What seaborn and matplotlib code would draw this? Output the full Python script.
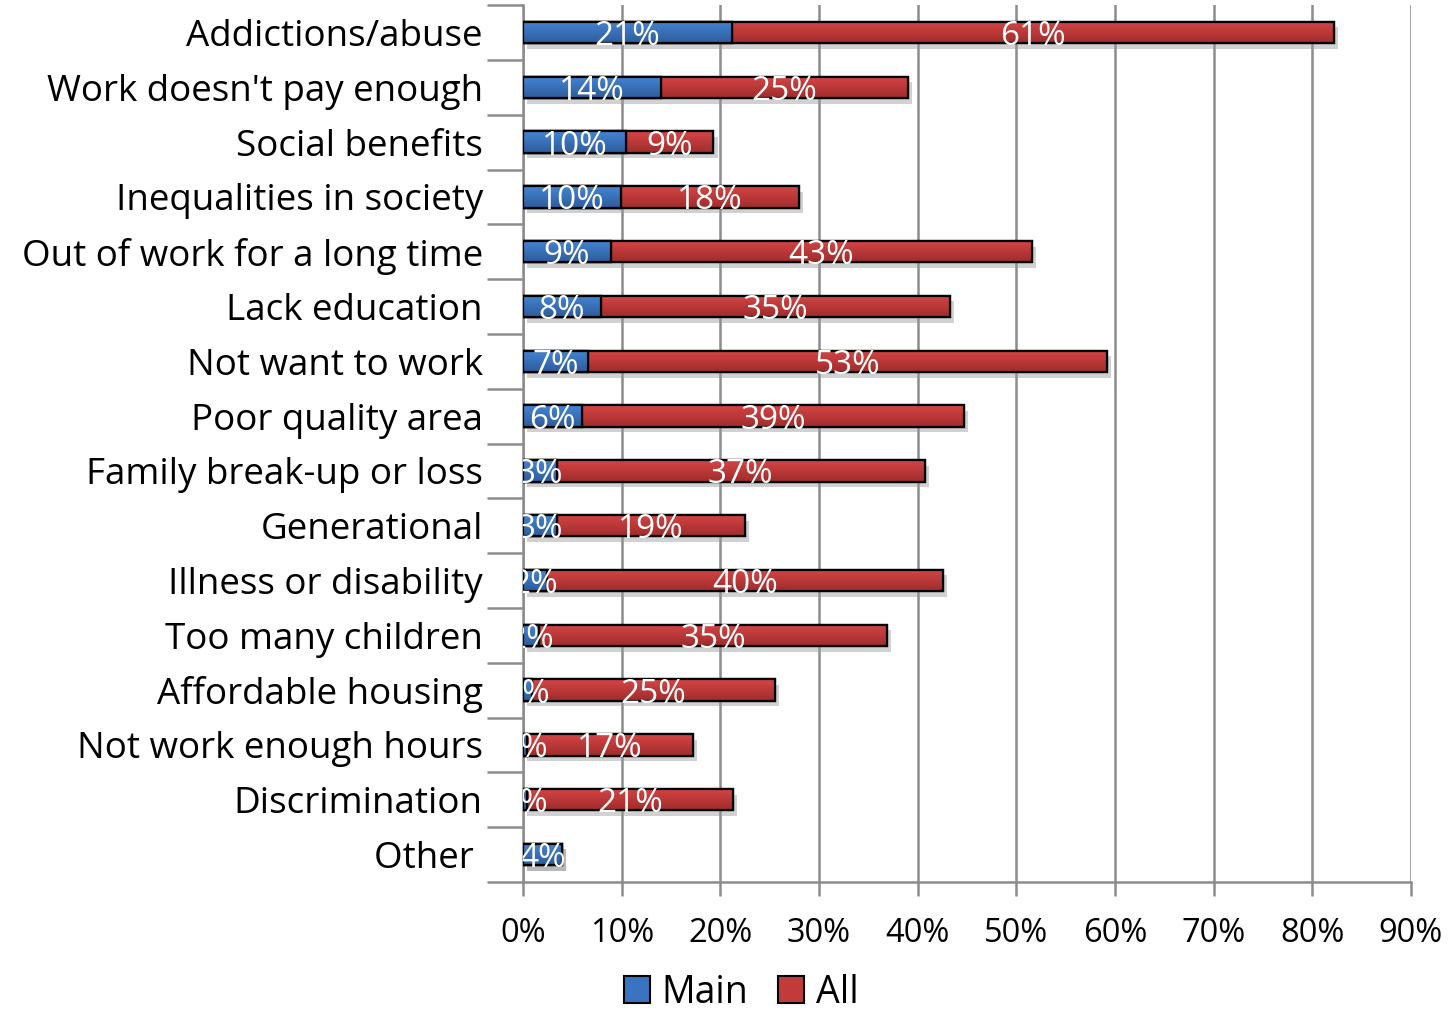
import numpy as np
import pandas as pd
import matplotlib
matplotlib.use("Agg")
import matplotlib.pyplot as plt
import matplotlib.patheffects as pe
from matplotlib.colors import LinearSegmentedColormap
from matplotlib.patches import Patch
import seaborn as sns

# Reasons, share naming it as the main reason, and additional share among all reasons
categories = [
    "Addictions/abuse", "Work doesn't pay enough", "Social benefits",
    "Inequalities in society", "Out of work for a long time", "Lack education",
    "Not want to work", "Poor quality area", "Family break-up or loss",
    "Generational", "Illness or disability", "Too many children",
    "Affordable housing", "Not work enough hours", "Discrimination", "Other ",
]
main_pct = [21.2, 14.0, 10.4, 9.9, 8.9, 7.9, 6.6, 6.0, 3.4, 3.4, 2.4, 1.6, 0.9, 0.4, 0.4, 3.9]
all_pct = [61.0, 25.0, 8.9, 18.1, 42.7, 35.4, 52.6, 38.7, 37.3, 19.1, 40.2, 35.3, 24.6, 16.8, 20.9, 0.0]
x_ticks = [0, 10, 20, 30, 40, 50, 60, 70, 80, 90]

df = pd.DataFrame({"reason": categories, "Main": main_pct, "All": all_pct})
df["total"] = df["Main"] + df["All"]

BLUE = "#3A74C0"
RED = "#C23B3B"
blue_grad = LinearSegmentedColormap.from_list("bg", ["#4585D3", "#2D5C9C"])
red_grad = LinearSegmentedColormap.from_list("rg", ["#D64545", "#A02C2C"])

sns.set_theme(style="white")
plt.rcParams["font.family"] = ["Open Sans", "DejaVu Sans"]
plt.rcParams["text.color"] = "black"

fig = plt.figure(figsize=(14.53, 10.18), dpi=100)
ax = fig.add_axes([0.36, 0.1336, 0.611, 0.8614])

shadow = [pe.SimplePatchShadow(offset=(3, -4), shadow_rgbFace="#9a9a9a", alpha=0.45), pe.Normal()]

# Full bar (main + all) in red, main portion overlaid in blue
sns.barplot(data=df, x="total", y="reason", color=RED, saturation=1, width=0.39,
            edgecolor="black", linewidth=1.6, ax=ax, zorder=3)
n_red = len(ax.patches)
sns.barplot(data=df, x="Main", y="reason", color=BLUE, saturation=1, width=0.39,
            edgecolor="black", linewidth=1.6, ax=ax, zorder=4)

# Vertical gradient fill on each bar, with soft drop shadow
grad = np.linspace(0, 1, 64).reshape(-1, 1)
bars = list(ax.patches)
for i, p in enumerate(bars):
    x0, y0 = p.get_x(), p.get_y()
    w, h = p.get_width(), p.get_height()
    if w <= 0:
        p.set_visible(False)
        continue
    cmap = red_grad if i < n_red else blue_grad
    if i < n_red or df["All"].iloc[i - n_red] == 0:
        p.set_path_effects(shadow)
    im = ax.imshow(grad, cmap=cmap, aspect="auto", extent=(x0, x0 + w, y0 + h, y0),
                   zorder=p.get_zorder() + 0.1, interpolation="bilinear")
    im.set_clip_path(p)
    # outline above the gradient fill
    ax.add_patch(plt.Rectangle((x0, y0), w, h, fill=False, edgecolor="black",
                               linewidth=1.6, zorder=p.get_zorder() + 0.2))

# Value labels, centred on each segment and clipped to the plot area
for yi, (m, a) in enumerate(zip(main_pct, all_pct)):
    if m > 0:
        ax.text(m / 2, yi, f"{m:.0f}%", ha="center", va="center_baseline", color="white",
                fontsize=24, zorder=6, clip_on=True)
    if a > 0:
        ax.text(m + a / 2, yi, f"{a:.0f}%", ha="center", va="center_baseline", color="white",
                fontsize=24, zorder=6, clip_on=True)

ax.set_xlim(0, 90)
ax.set_ylim(len(categories) - 0.5, -0.5)
ax.set_xticks(x_ticks)
ax.set_xticklabels([f"{t}%" for t in x_ticks], fontsize=23.5)
ax.set_yticks(np.arange(len(categories) + 1) - 0.5, minor=True)
ax.set_yticklabels(categories, fontsize=26.5)
ax.set_xlabel("")
ax.set_ylabel("")

ax.grid(axis="x", color="#8c8c8c", linewidth=1.8, zorder=0)
ax.grid(axis="y", visible=False)
ax.set_axisbelow(True)
for s in ["top", "right"]:
    ax.spines[s].set_visible(False)
for s in ["left", "bottom"]:
    ax.spines[s].set_color("#8c8c8c")
    ax.spines[s].set_linewidth(1.8)

ax.tick_params(axis="y", which="major", length=0, pad=29, labelcolor="black")
ax.tick_params(axis="y", which="minor", left=True, length=26, width=1.8, color="#8c8c8c")
ax.tick_params(axis="x", which="major", bottom=True, length=10, width=1.8, color="#8c8c8c",
               pad=15, labelcolor="black")

handles = [Patch(facecolor=BLUE, edgecolor="black", linewidth=1.5, label="Main"),
           Patch(facecolor=RED, edgecolor="black", linewidth=1.5, label="All")]
fig.legend(handles=handles, loc="lower center", bbox_to_anchor=(0.51, -0.027), ncol=2,
           frameon=False, fontsize=27, handlelength=0.7, handleheight=0.7,
           handletextpad=0.3, columnspacing=0.8, labelcolor="black")

fig.savefig("out.png", dpi=100)
